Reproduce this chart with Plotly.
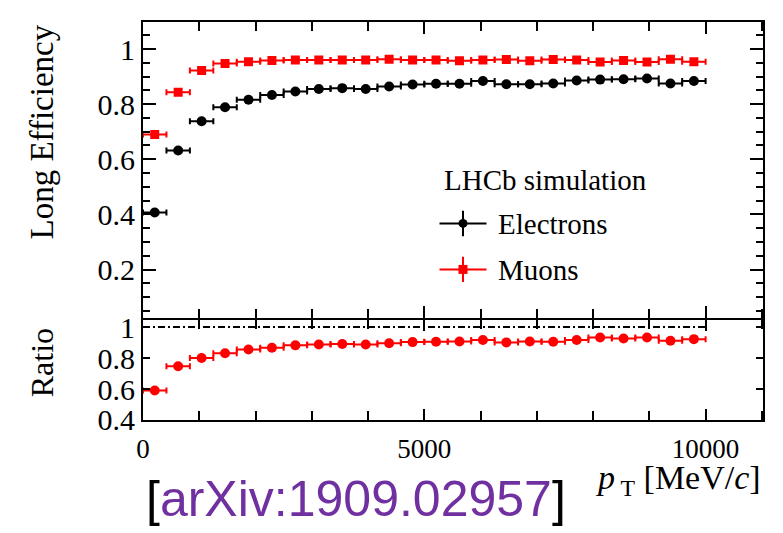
import numpy as np
import plotly.graph_objects as go

# Binning in transverse momentum (MeV/c)
pt_max = 10000
n_bins = 24

# Long-track efficiency per pT bin
eff_electrons = [0.407, 0.632, 0.738, 0.789, 0.816, 0.833, 0.846, 0.855, 0.858, 0.855,
                 0.864, 0.871, 0.874, 0.874, 0.884, 0.872, 0.872, 0.875, 0.886, 0.889,
                 0.890, 0.893, 0.875, 0.884]
eff_muons = [0.690, 0.843, 0.922, 0.947, 0.954, 0.958, 0.960, 0.960, 0.960, 0.960,
             0.963, 0.960, 0.960, 0.957, 0.960, 0.962, 0.957, 0.962, 0.960, 0.953,
             0.958, 0.953, 0.963, 0.954]
# Electron / muon efficiency ratio
ratio = [0.591, 0.747, 0.800, 0.831, 0.855, 0.867, 0.882, 0.888, 0.891, 0.888,
         0.895, 0.903, 0.905, 0.907, 0.916, 0.901, 0.907, 0.905, 0.916, 0.933,
         0.926, 0.933, 0.912, 0.922]

edges = np.linspace(0, pt_max, n_bins + 1)
centers = 0.5 * (edges[:-1] + edges[1:])
half_width = 0.5 * (edges[1:] - edges[:-1])

RED = "#ff0000"
BLACK = "#000000"
SERIF = "Liberation Serif"

fig = go.Figure()

def xerr(color):
    return dict(type="data", array=half_width, color=color, thickness=2, width=3)

fig.add_trace(go.Scatter(x=centers, y=eff_electrons, mode="markers", xaxis="x", yaxis="y",
                         marker=dict(symbol="circle", size=10, color=BLACK),
                         error_x=xerr(BLACK), showlegend=False))
fig.add_trace(go.Scatter(x=centers, y=eff_muons, mode="markers", xaxis="x", yaxis="y",
                         marker=dict(symbol="square", size=9, color=RED),
                         error_x=xerr(RED), showlegend=False))

# Unity reference in the ratio panel
fig.add_trace(go.Scatter(x=[0, pt_max], y=[1, 1], mode="lines", xaxis="x2", yaxis="y2",
                         line=dict(color=BLACK, width=2, dash="7px,3px,2px,3px"),
                         showlegend=False))
fig.add_trace(go.Scatter(x=centers, y=ratio, mode="markers", xaxis="x2", yaxis="y2",
                         marker=dict(symbol="circle", size=10, color=RED),
                         error_x=xerr(RED), showlegend=False))

# Legend glyphs drawn on a pixel-scaled overlay axis
for (gx, gy, sym, col, sz) in [(463, 219, "circle", BLACK, 9), (463, 266, "square", RED, 9)]:
    fig.add_trace(go.Scatter(x=[gx], y=[gy], mode="markers", xaxis="x3", yaxis="y3",
                             marker=dict(symbol=sym, size=sz, color=col),
                             error_x=dict(type="constant", value=23.5, color=col, thickness=2, width=0),
                             error_y=dict(type="constant", value=13, color=col, thickness=2, width=0),
                             showlegend=False, hoverinfo="skip"))

xtickfont = dict(family=SERIF, size=27, color=BLACK)
ytickfont = dict(family=SERIF, size=30, color=BLACK)
split = 102 / 407.0
gap = 2 / 407.0

common_x = dict(range=[0, 11020], showline=True, linewidth=2, linecolor=BLACK, mirror="allticks",
                ticks="inside", tickwidth=2, tickcolor=BLACK, tick0=0, dtick=5000,
                tickformat="d", showgrid=False, zeroline=False, tickfont=xtickfont,
                minor=dict(ticks="inside", dtick=1000, tick0=0, ticklen=9, tickwidth=2,
                           tickcolor=BLACK, showgrid=False))

fig.update_layout(
    width=783, height=533,
    margin=dict(l=143, r=20, t=13, b=113),
    paper_bgcolor="white", plot_bgcolor="rgba(0,0,0,0)",
    xaxis=dict(common_x, domain=[0, 1], anchor="y", showticklabels=False, ticklen=12),
    yaxis=dict(domain=[split + gap, 1], anchor="x", range=[0.023, 1.098], showline=True,
               linewidth=2, linecolor=BLACK, mirror="allticks", ticks="inside", ticklen=13,
               tickwidth=2, tickcolor=BLACK, tick0=0, dtick=0.2, showgrid=False,
               zeroline=False, tickfont=ytickfont, ticklabelstandoff=0,
               minor=dict(ticks="inside", dtick=0.05, tick0=0, ticklen=7, tickwidth=2,
                          tickcolor=BLACK, showgrid=False)),
    xaxis2=dict(common_x, domain=[0, 1], anchor="y2", showticklabels=True, ticklen=11,
                ticklabelstandoff=4),
    yaxis2=dict(domain=[0, split], anchor="x2", range=[0.4, 1.044], showline=True, linewidth=2,
                linecolor=BLACK, mirror="allticks", ticks="inside", ticklen=7, tickwidth=2,
                tickcolor=BLACK, tick0=0, dtick=0.2, showgrid=False, zeroline=False,
                tickfont=ytickfont, ticklabelstandoff=0),
    xaxis3=dict(domain=[0, 1], anchor="y3", range=[143, 763], visible=False, fixedrange=True),
    yaxis3=dict(domain=[0, 1], anchor="x3", range=[420, 13], visible=False, fixedrange=True),
)

def px_x(px):
    return (px - 143) / 620.0

def px_y(py):
    return (420 - py) / 407.0

annotations = [
    dict(text="Long Efficiency", x=px_x(42), y=px_y(126), textangle=-90,
         font=dict(family=SERIF, size=33, color=BLACK)),
    dict(text="Ratio", x=px_x(42), y=px_y(362), textangle=-90,
         font=dict(family=SERIF, size=32, color=BLACK)),
    dict(text="<i>p</i><sub> T</sub> [MeV/<i>c</i>]", x=1.0, y=px_y(481), xanchor="right",
         font=dict(family=SERIF, size=34, color=BLACK)),
    dict(text="LHCb simulation", x=px_x(442), y=px_y(175), xanchor="left",
         font=dict(family=SERIF, size=29, color=BLACK)),
    dict(text="Electrons", x=px_x(496), y=px_y(220), xanchor="left",
         font=dict(family=SERIF, size=29, color=BLACK)),
    dict(text="Muons", x=px_x(496), y=px_y(267), xanchor="left",
         font=dict(family=SERIF, size=29, color=BLACK)),
    dict(text="[<span style='color:#7030a0'>arXiv:1909.02957</span>]", x=px_x(144), y=px_y(501),
         xanchor="left", font=dict(family="Liberation Sans", size=50, color=BLACK)),
]
for a in annotations:
    a.setdefault("xanchor", "center")
    a.setdefault("yanchor", "middle")
    a.update(xref="paper", yref="paper", showarrow=False)
fig.update_layout(annotations=annotations)

fig.write_html("out.html")
